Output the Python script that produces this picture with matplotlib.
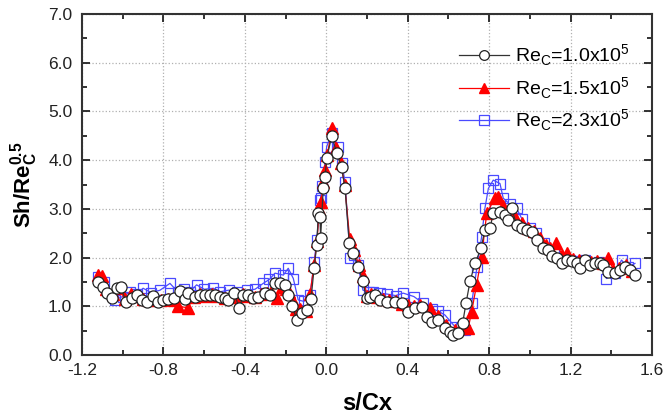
import matplotlib
matplotlib.use("Agg")
import matplotlib.pyplot as plt
from matplotlib.ticker import MultipleLocator, FormatStrFormatter

plt.rcParams['font.family'] = ['Liberation Sans', 'DejaVu Sans']
plt.rcParams['mathtext.fontset'] = 'custom'
plt.rcParams['mathtext.rm'] = 'Liberation Sans'
plt.rcParams['mathtext.bf'] = 'Liberation Sans:bold'

# Re_C = 1.0x10^5 (circles)
c_x = [-1.12, -1.095, -1.076, -1.054, -1.03, -1.01, -0.984, -0.956, -0.931, -0.907,
       -0.882, -0.85, -0.825, -0.80, -0.776, -0.75, -0.719, -0.694, -0.678, -0.645,
       -0.62, -0.596, -0.571, -0.547, -0.522, -0.498, -0.481, -0.453, -0.427, -0.408,
       -0.383, -0.359, -0.334, -0.301, -0.277, -0.252, -0.227, -0.203, -0.187, -0.167,
       -0.145, -0.121, -0.093, -0.075, -0.06, -0.047, -0.039, -0.031, -0.028, -0.015,
       -0.006, 0.002, 0.027, 0.051, 0.075, 0.092, 0.113, 0.133, 0.157, 0.179,
       0.198, 0.215, 0.239, 0.264, 0.30, 0.337, 0.37, 0.403, 0.436, 0.468,
       0.493, 0.518, 0.55, 0.583, 0.607, 0.624, 0.648, 0.67, 0.686, 0.706,
       0.73, 0.76, 0.779, 0.804, 0.82, 0.853, 0.877, 0.894, 0.91, 0.935,
       0.96, 0.984, 1.009, 1.033, 1.066, 1.09, 1.107, 1.132, 1.156, 1.181,
       1.205, 1.23, 1.246, 1.27, 1.295, 1.32, 1.344, 1.36, 1.385, 1.418,
       1.442, 1.467, 1.492, 1.516]
c_y = [1.50, 1.40, 1.28, 1.18, 1.37, 1.40, 1.09, 1.18, 1.23, 1.13,
       1.09, 1.21, 1.09, 1.12, 1.14, 1.16, 1.31, 1.14, 1.27, 1.20,
       1.23, 1.23, 1.23, 1.23, 1.20, 1.16, 1.12, 1.27, 0.96, 1.23,
       1.23, 1.18, 1.20, 1.27, 1.23, 1.47, 1.47, 1.44, 1.23, 1.01,
       0.72, 0.86, 0.92, 1.15, 1.78, 2.26, 2.91, 2.84, 2.40, 3.42,
       3.66, 4.04, 4.50, 4.15, 3.85, 3.42, 2.29, 2.09, 1.81, 1.51,
       1.16, 1.20, 1.23, 1.13, 1.09, 1.09, 1.06, 0.89, 0.96, 0.99,
       0.79, 0.68, 0.72, 0.55, 0.48, 0.41, 0.46, 0.66, 1.06, 1.51,
       1.88, 2.19, 2.57, 2.60, 2.91, 2.94, 2.87, 2.77, 3.01, 2.67,
       2.60, 2.57, 2.53, 2.36, 2.19, 2.16, 2.03, 1.99, 1.88, 1.95,
       1.92, 1.88, 1.78, 1.95, 1.85, 1.88, 1.88, 1.85, 1.71, 1.68,
       1.75, 1.81, 1.75, 1.64]

# Re_C = 1.5x10^5 (triangles)
t_x = [-1.12, -1.10, -1.08, -1.05, -1.02, -0.99, -0.96, -0.93, -0.90, -0.87,
       -0.84, -0.81, -0.78, -0.75, -0.73, -0.68, -0.65, -0.62, -0.59, -0.56,
       -0.53, -0.50, -0.47, -0.44, -0.41, -0.38, -0.35, -0.32, -0.29, -0.27,
       -0.24, -0.22, -0.20, -0.185, -0.165, -0.15, -0.13, -0.10, -0.08, -0.06,
       -0.045, -0.035, -0.025, -0.015, -0.005, 0.005, 0.027, 0.05, 0.07, 0.09,
       0.115, 0.135, 0.16, 0.18, 0.20, 0.22, 0.25, 0.28, 0.31, 0.34,
       0.37, 0.40, 0.43, 0.46, 0.51, 0.55, 0.59, 0.63, 0.66, 0.697,
       0.714, 0.738, 0.763, 0.788, 0.828, 0.845, 0.87, 0.90, 0.93, 0.96,
       0.99, 1.02, 1.05, 1.08, 1.10, 1.13, 1.16, 1.18, 1.21, 1.24,
       1.27, 1.30, 1.33, 1.36, 1.385, 1.41, 1.44, 1.47, 1.50]
t_y = [1.65, 1.62, 1.35, 1.25, 1.38, 1.15, 1.25, 1.22, 1.15, 1.12,
       1.20, 1.12, 1.15, 1.12, 1.00, 0.97, 1.20, 1.25, 1.22, 1.25,
       1.22, 1.18, 1.20, 1.22, 1.25, 1.22, 1.20, 1.25, 1.28, 1.30,
       1.17, 1.40, 1.35, 1.30, 1.10, 0.95, 0.95, 0.90, 1.25, 1.85,
       2.35, 3.00, 3.15, 3.55, 3.80, 4.10, 4.65, 4.25, 3.95, 3.50,
       2.38, 2.15, 1.85, 1.62, 1.22, 1.25, 1.20, 1.15, 1.12, 1.10,
       1.05, 1.02, 1.00, 1.02, 0.96, 0.80, 0.62, 0.52, 0.55, 0.55,
       0.89, 1.44, 2.02, 2.91, 3.22, 3.25, 3.05, 2.95, 2.80, 2.70,
       2.60, 2.55, 2.40, 2.25, 2.20, 2.29, 2.05, 2.09, 1.98, 1.95,
       1.92, 1.90, 1.92, 1.88, 1.99, 1.75, 1.78, 1.85, 1.72]

# Re_C = 2.3x10^5 (squares)
s_x = [-1.12, -1.09, -1.04, -1.00, -0.964, -0.93, -0.90, -0.86, -0.817, -0.768,
       -0.73, -0.70, -0.67, -0.637, -0.60, -0.555, -0.52, -0.48, -0.44, -0.39,
       -0.35, -0.31, -0.28, -0.252, -0.211, -0.187, -0.162, -0.138, -0.11, -0.08,
       -0.06, -0.047, -0.031, -0.028, -0.022, -0.006, 0.002, 0.027, 0.059, 0.075,
       0.092, 0.117, 0.135, 0.155, 0.18, 0.21, 0.23, 0.264, 0.30, 0.34,
       0.378, 0.43, 0.476, 0.52, 0.55, 0.583, 0.632, 0.66, 0.68, 0.714,
       0.74, 0.763, 0.779, 0.796, 0.82, 0.853, 0.869, 0.90, 0.935, 0.96,
       1.00, 1.03, 1.07, 1.12, 1.16, 1.197, 1.23, 1.27, 1.30, 1.34,
       1.376, 1.42, 1.45, 1.48, 1.516]
s_y = [1.61, 1.50, 1.13, 1.20, 1.30, 1.25, 1.37, 1.28, 1.33, 1.47,
       1.30, 1.35, 1.30, 1.44, 1.35, 1.37, 1.30, 1.33, 1.30, 1.33,
       1.35, 1.47, 1.55, 1.68, 1.64, 1.78, 1.57, 1.13, 1.10, 1.23,
       1.90, 2.36, 3.18, 3.22, 3.46, 3.97, 4.28, 4.56, 4.28, 3.95,
       3.56, 1.99, 2.05, 1.85, 1.33, 1.30, 1.30, 1.27, 1.25, 1.22,
       1.27, 1.20, 1.06, 0.95, 0.90, 0.82, 0.58, 0.55, 0.51, 1.06,
       1.80, 2.43, 3.01, 3.42, 3.59, 3.52, 3.22, 3.10, 3.01, 2.80,
       2.60, 2.50, 2.30, 2.10, 2.00, 1.95, 1.92, 1.95, 1.88, 1.90,
       1.57, 1.68, 1.95, 1.80, 1.88]

labels = [r'Re$_\mathregular{C}$=1.0x10$^\mathregular{5}$',
          r'Re$_\mathregular{C}$=1.5x10$^\mathregular{5}$',
          r'Re$_\mathregular{C}$=2.3x10$^\mathregular{5}$']

fig = plt.figure(figsize=(6.64, 4.17), dpi=100)
ax = fig.add_axes([0.1235, 0.1487, 0.8585, 0.8177])

hc, = ax.plot(c_x, c_y, '-o', color='#333333', lw=0.9, ms=8, mfc='white',
              mec='#222222', mew=0.9, zorder=5)
ht, = ax.plot(t_x, t_y, '-^', color='red', lw=0.9, ms=8, mfc='red',
              mec='red', zorder=4)
hs, = ax.plot(s_x, s_y, '-s', color='#4a4aff', lw=0.9, ms=7.5, mfc='none',
              mec='#4a4aff', mew=0.9, zorder=3)

ax.set_xlim(-1.2, 1.6)
ax.set_ylim(0, 7)
ax.xaxis.set_major_locator(MultipleLocator(0.4))
ax.xaxis.set_minor_locator(MultipleLocator(0.2))
ax.yaxis.set_major_locator(MultipleLocator(1.0))
ax.yaxis.set_minor_locator(MultipleLocator(0.5))
ax.xaxis.set_major_formatter(FormatStrFormatter('%.1f'))
ax.yaxis.set_major_formatter(FormatStrFormatter('%.1f'))
ax.tick_params(which='both', direction='in', top=True, right=True,
               labelsize=12.5, width=1.3, colors='#222222')
ax.tick_params(which='major', length=6)
ax.tick_params(axis='x', which='major', pad=6)
ax.tick_params(axis='y', which='major', pad=7)
ax.tick_params(which='minor', length=3.5)
for sp in ax.spines.values():
    sp.set_linewidth(1.5)
    sp.set_color('#333333')
ax.grid(True, which='major', ls=':', color='#b0b0b0', lw=0.9)
ax.set_axisbelow(True)

ax.set_xlabel('s/Cx', fontsize=17, fontweight='bold', labelpad=10)
ax.set_ylabel(r'$\mathbf{Sh/Re}_\mathbf{C}^\mathbf{0.5}$', fontsize=16, labelpad=6)

leg = ax.legend([hc, ht, hs], labels, loc='upper right', frameon=False,
                fontsize=14, handlelength=2.6, handletextpad=0.3,
                borderaxespad=0.6, labelspacing=0.35, bbox_to_anchor=(0.995, 0.975))
for h in leg.legend_handles:
    h.set_markersize(7)

fig.savefig('out.png', dpi=100)
